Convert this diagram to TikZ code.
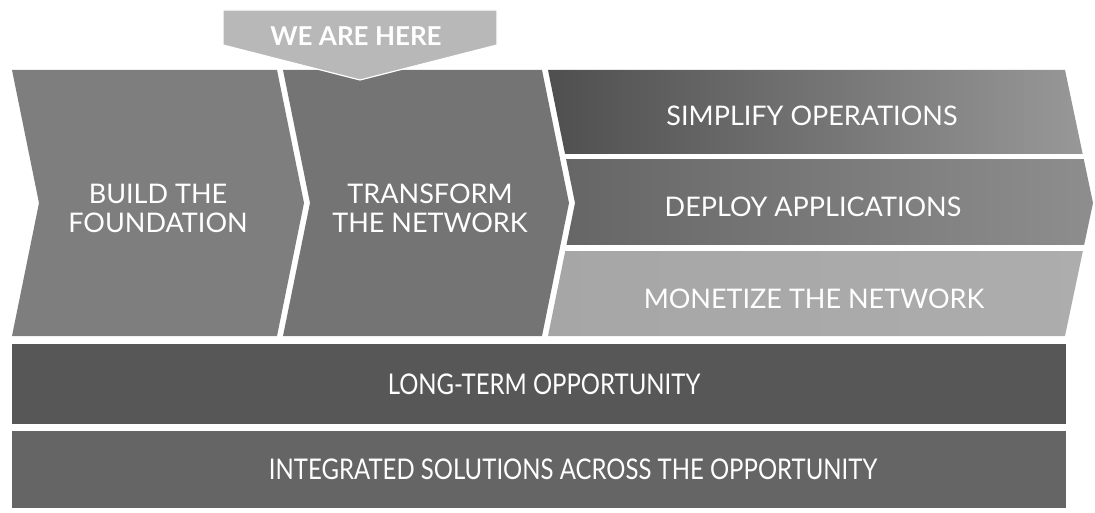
\documentclass[tikz,border=0pt]{standalone}
\usepackage{fontspec}
\setmainfont{Lato}
\newfontfamily\condfont[FakeStretch=0.84]{Lato}
\definecolor{cbanner}{HTML}{B8B8B8}
\definecolor{cone}{HTML}{7E7E7E}
\definecolor{ctwo}{HTML}{747474}
\definecolor{raL}{HTML}{4E4E4E}
\definecolor{raR}{HTML}{9A9A9A}
\definecolor{rbL}{HTML}{646464}
\definecolor{rbR}{HTML}{8E8E8E}
\definecolor{rcL}{HTML}{A6A6A6}
\definecolor{rcR}{HTML}{ADADAD}
\definecolor{barone}{HTML}{575757}
\definecolor{bartwo}{HTML}{656565}
\begin{document}
\begin{tikzpicture}[x=1pt,y=-1pt,
  lbl/.style={text=white,font=\fontsize{27}{29}\selectfont,align=center,inner sep=0pt},
  rowlbl/.style={text=white,font=\fontsize{27}{30}\selectfont,inner sep=0pt},
  barlbl/.style={text=white,font=\condfont\fontsize{28.5}{32}\selectfont,inner sep=0pt},
  banlbl/.style={text=white,font=\bfseries\fontsize{26}{30}\selectfont,inner sep=0pt}]
\useasboundingbox (0,0) rectangle (1095,513);
% left chevrons
\fill[cone] (12,70) -- (277,70) -- (304,203) -- (277,336) -- (12,336) -- (39,203) -- cycle;
\fill[ctwo] (283,70) -- (542,70) -- (569,203) -- (542,336) -- (283,336) -- (310,203) -- cycle;
% right chevron split into three rows
\begin{scope}
  \clip (548,70) -- (1065,70) -- (1093,203) -- (1065,336) -- (548,336) -- (575,203) -- cycle;
  \shade[left color=raL,right color=raR] (540,70) rectangle (1100,154);
  \shade[left color=rbL,right color=rbR] (540,160) rectangle (1100,245);
  \shade[left color=rcL,right color=rcR] (540,251) rectangle (1100,336);
\end{scope}
% bottom bars
\fill[barone] (12,344) rectangle (1066,424);
\fill[bartwo] (12,431) rectangle (1066,508);
% banner
\fill[cbanner,draw=white,line width=1.2pt] (223,10) -- (497,10) -- (497,45) -- (360,80) -- (223,45) -- cycle;
% labels
\node[banlbl] (here) at (356,36) {WE ARE HERE};
\node[lbl] (build) at (158,208) {BUILD THE\\FOUNDATION};
\node[lbl] (transform) at (430,208) {TRANSFORM\\THE NETWORK};
\node[rowlbl] (simplify) at (812,116) {SIMPLIFY OPERATIONS};
\node[rowlbl] (deploy) at (813,207) {DEPLOY APPLICATIONS};
\node[rowlbl] (monetize) at (814,299) {MONETIZE THE NETWORK};
\node[barlbl] (longterm) at (544,384) {LONG-TERM OPPORTUNITY};
\node[barlbl] (integrated) at (573,469) {INTEGRATED SOLUTIONS ACROSS THE OPPORTUNITY};
\end{tikzpicture}
\end{document}
